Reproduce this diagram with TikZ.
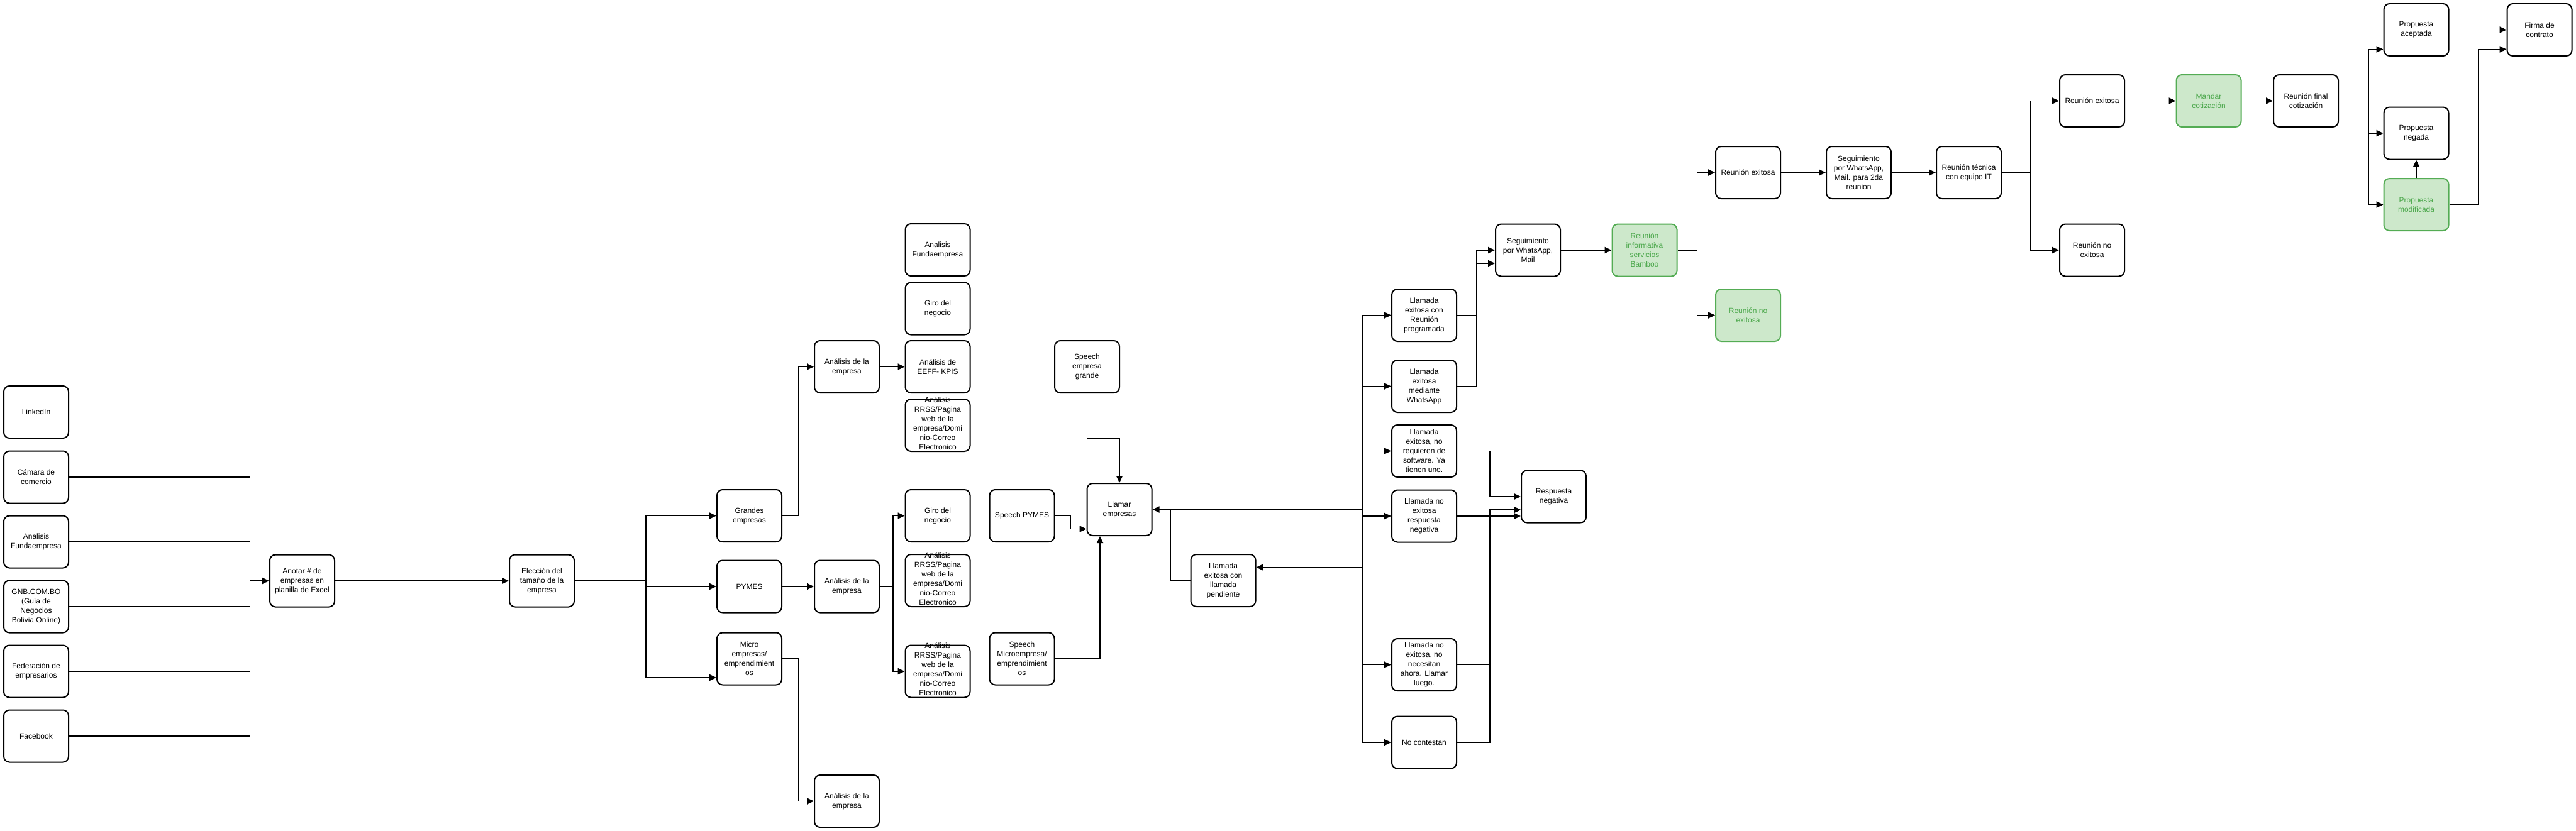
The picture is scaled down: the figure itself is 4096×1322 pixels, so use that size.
\documentclass[tikz,border=0pt]{standalone}
\usepackage{fontspec}
\setmainfont{Liberation Sans}
\usetikzlibrary{arrows.meta}

\definecolor{verdefondo}{RGB}{205,232,203}
\definecolor{verdeborde}{RGB}{84,172,84}
\definecolor{verdetexto}{RGB}{76,168,76}
\newcommand{\rrsstexto}{\smash{\parbox[c]{96pt}{\centering Análisis\\RRSS/Pagina\\web de la\\empresa/Domi\\nio-Correo\\Electronico}}}

\begin{document}
\begin{tikzpicture}[x=1pt, y=-1pt,
        box/.style={draw, line width=2pt, rounded corners=9pt, minimum width=103pt, minimum height=83pt, inner sep=2pt, align=center, font=\fontsize{12}{15}\selectfont},
        hl/.style={box, draw=verdeborde, fill=verdefondo, text=verdetexto},
        conn/.style={line width=1.8pt},
        conna/.style={conn, -{Triangle[length=11pt, width=10pt]}}]
        \useasboundingbox (0,0) rectangle (4096,1322);

        \node[box] (linkedin) at (57.5,655.5) {LinkedIn};
        \node[box] (camara) at (57.5,759) {Cámara de\\comercio};
        \node[box] (fundaL) at (57.5,862) {Analisis\\Fundaempresa};
        \node[box] (gnb) at (57.5,965) {GNB.COM.BO\\(Guía de\\Negocios\\Bolivia Online)};
        \node[box] (feder) at (57.5,1068) {Federación de\\empresarios};
        \node[box] (facebook) at (57.5,1171) {Facebook};

        \node[box] (anotar) at (480.5,924) {Anotar \# de\\empresas en\\planilla de Excel};
        \node[box] (eleccion) at (861.5,924) {Elección del\\tamaño de la\\empresa};

        \node[box] (grandes) at (1191.5,820.5) {Grandes\\empresas};
        \node[box] (pymes) at (1191.5,933) {PYMES};
        \node[box] (micro) at (1191.5,1048) {Micro\\empresas/\\emprendimient\\os};

        \node[box] (anaA) at (1346.5,583.5) {Análisis de la\\empresa};
        \node[box] (anaB) at (1346.5,933) {Análisis de la\\empresa};
        \node[box] (anaC) at (1346.5,1274.5) {Análisis de la\\empresa};

        \node[box] (fundaR) at (1491,397.5) {Analisis\\Fundaempresa};
        \node[box] (giroA) at (1491,491) {Giro del\\negocio};
        \node[box] (eeff) at (1491,583.5) {Análisis de\\EEFF- KPIS};
        \node[box] (rrssA) at (1491,676.5) {\rrsstexto};
        \node[box] (giroB) at (1491,820.5) {Giro del\\negocio};
        \node[box] (rrssB) at (1491,923.5) {\rrsstexto};
        \node[box] (rrssC) at (1491,1068) {\rrsstexto};

        \node[box] (speechG) at (1728.5,583.5) {Speech\\empresa\\grande};
        \node[box] (speechP) at (1625,820.5) {Speech PYMES};
        \node[box] (speechM) at (1625,1048) {Speech\\Microempresa/\\emprendimient\\os};
        \node[box] (llamar) at (1780,810.5) {Llamar\\empresas};
        \node[box] (pend) at (1945,923.5) {Llamada\\exitosa con\\llamada\\pendiente};

        \node[box] (llReu) at (2264.5,501.5) {Llamada\\exitosa con\\Reunión\\programada};
        \node[box] (llWa) at (2264.5,614.5) {Llamada\\exitosa\\mediante\\WhatsApp};
        \node[box] (llNoreq) at (2264.5,717.5) {Llamada\\exitosa, no\\requieren de\\software. Ya\\tienen uno.};
        \node[box] (llNeg) at (2264.5,821) {Llamada no\\exitosa\\respuesta\\negativa};
        \node[box] (llNec) at (2264.5,1057.5) {Llamada no\\exitosa, no\\necesitan\\ahora. Llamar\\luego.};
        \node[box] (llNo) at (2264.5,1181) {No contestan};
        \node[box] (resp) at (2470.5,790) {Respuesta\\negativa};

        \node[box] (seg) at (2429.5,398) {Seguimiento\\por WhatsApp,\\Mail};
        \node[hl] (rInfo) at (2615,398) {Reunión\\informativa\\servicios\\Bamboo};
        \node[box] (rExito) at (2779.5,274.5) {Reunión exitosa};
        \node[hl] (rNoExito) at (2779.5,501.5) {Reunión no\\exitosa};
        \node[box] (seg2) at (2955.5,274.5) {Seguimiento\\por WhatsApp,\\Mail. para 2da\\reunion};
        \node[box] (tecnica) at (3130.5,274.5) {Reunión técnica\\con equipo IT};
        \node[box] (rExito2) at (3326.5,160.5) {Reunión exitosa};
        \node[box] (rNoExito2) at (3326.5,398) {Reunión no\\exitosa};
        \node[hl] (mandar) at (3512,160.5) {Mandar\\cotización};
        \node[box] (final) at (3666.5,160.5) {Reunión final\\cotización};
        \node[box] (aceptada) at (3842,47.5) {Propuesta\\aceptada};
        \node[box] (negada) at (3842,212) {Propuesta\\negada};
        \node[hl] (modificada) at (3842,325.5) {Propuesta\\modificada};
        \node[box] (firma) at (4038,47.5) {Firma de\\contrato};

        \coordinate (junta) at (397.5,924);
        \foreach \f in {linkedin,camara,fundaL,gnb,feder,facebook}
            \draw[conn] (\f.east) -| (junta);
        \draw[conna] (junta) -- (anotar.west);
        \draw[conna] (anotar) -- (eleccion);

        \coordinate (rama) at (1027,924);
        \draw[conn] (eleccion.east) -- (rama);
        \draw[conna] (rama) |- (grandes.west);
        \draw[conna] (rama) |- (pymes.west);
        \draw[conna] (rama) |- ([yshift=-30pt]micro.west);

        \draw[conna] (grandes.east) -- ++(26,0) |- (anaA.west);
        \draw[conna] (anaA) -- (eeff);
        \draw[conna] (pymes) -- (anaB);
        \draw[conna] (anaB.east) -- ++(21,0) |- (giroB.west);
        \draw[conna] (anaB.east) -- ++(21,0) |- (rrssC.west);
        \draw[conna] (micro.east) -- ++(26,0) |- (anaC.west);

        \draw[conna] (speechG.south) -- ++(0,72) -| (llamar.north);
        \draw[conna] (speechP.east) -- ++(25,0) |- ([yshift=-31pt]llamar.west);
        \draw[conna] (speechM.east) -| ([xshift=-31pt]llamar.south);

        \coordinate (bus) at (2166,810.5);
        \draw[conn] (llamar.east) -- (bus);
        \foreach \l in {llReu,llWa,llNoreq,llNeg,llNec,llNo}
            \draw[conna] (bus) |- (\l.west);
        \draw[conna] (bus) |- ([yshift=21pt]pend.east);
        \draw[conna] (pend.west) -- ++(-31,0) |- (llamar.east);

        \draw[conna] (llReu.east) -- ++(31,0) |- (seg.west);
        \draw[conna] (llWa.east) -- ++(31,0) |- ([yshift=-21pt]seg.west);
        \draw[conna] (llNoreq.east) -- ++(52,0) |- (resp.west);
        \draw[conna] (llNeg.east) -- ([yshift=-31pt]resp.west);
        \draw[conna] (llNec.east) -- ++(52,0) |- ([yshift=-21pt]resp.west);
        \draw[conna] (llNo.east) -- ++(52,0) |- ([yshift=-21pt]resp.west);

        \draw[conna] (seg) -- (rInfo);
        \draw[conna] (rInfo.east) -- ++(31,0) |- (rExito.west);
        \draw[conna] (rInfo.east) -- ++(31,0) |- (rNoExito.west);
        \draw[conna] (rExito) -- (seg2);
        \draw[conna] (seg2) -- (tecnica);
        \draw[conna] (tecnica.east) -- ++(46,0) |- (rExito2.west);
        \draw[conna] (tecnica.east) -- ++(46,0) |- (rNoExito2.west);
        \draw[conna] (rExito2) -- (mandar);
        \draw[conna] (mandar) -- (final);
        \draw[conna] (final.east) -- ++(47,0) |- ([yshift=-31pt]aceptada.west);
        \draw[conna] (final.east) -- ++(47,0) |- (negada.west);
        \draw[conna] (final.east) -- ++(47,0) |- (modificada.west);
        \draw[conna] (modificada) -- (negada);
        \draw[conna] (aceptada) -- (firma);
        \draw[conna] (modificada.east) -- ++(46,0) |- ([yshift=-31pt]firma.west);
    \end{tikzpicture}
\end{document}
